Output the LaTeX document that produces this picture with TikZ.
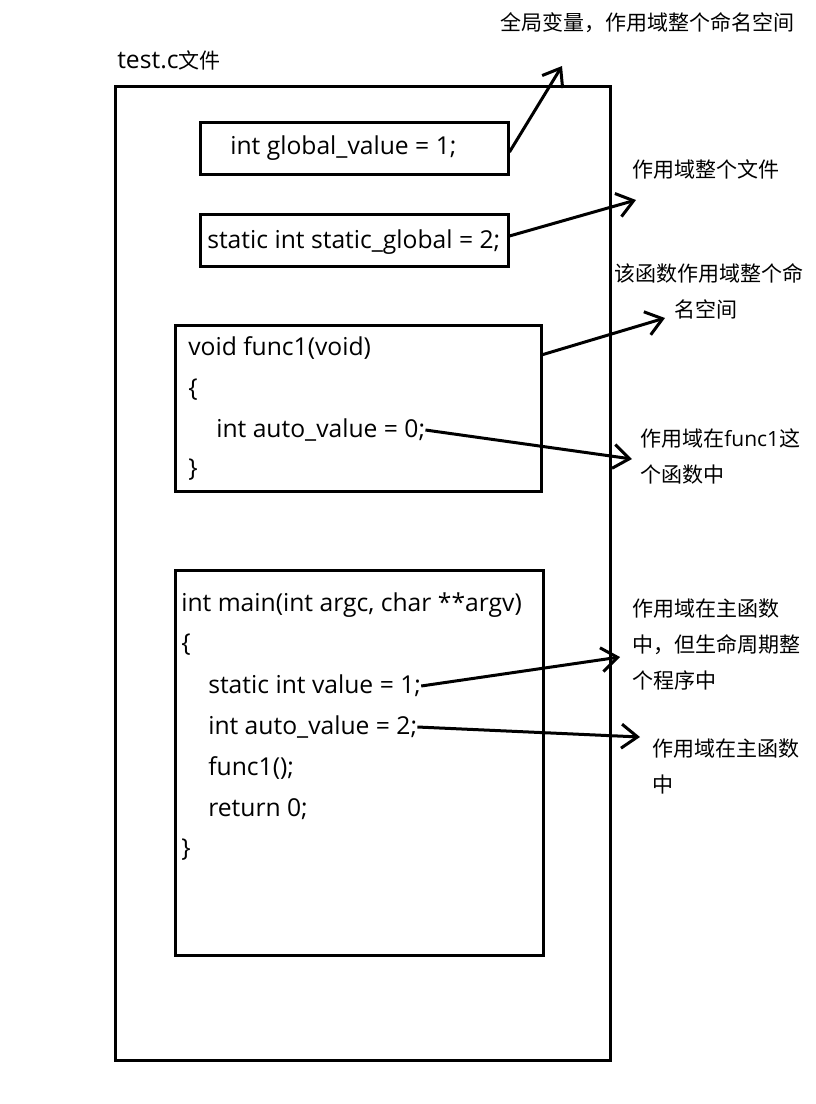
\documentclass[tikz,border=0pt]{standalone}
\usepackage{fontspec}
\setmainfont{Noto Sans CJK SC}
\newfontfamily\codefont{Open Sans}
\usetikzlibrary{arrows.meta,positioning}

\begin{document}
\begin{tikzpicture}[x=0.75pt,y=-0.75pt]
  \tikzset{box/.style={draw,line width=2.25pt,inner sep=0pt},
    code/.style={anchor=west,inner sep=0pt,font=\codefont\fontsize{18.5}{22}\selectfont},
    note/.style={anchor=north west,align=left,inner sep=0pt,font=\fontsize{15.75}{27}\selectfont}}
  \tikzstyle{post}=[-{Straight Barb[length=12pt,width=18pt]},line width=2.25pt]
  \useasboundingbox (0,0) rectangle (816,1104);
  % file and its boxes
  \node[code] (title) at (117,60) {test.c{\normalfont\fontsize{15.75}{20}\selectfont 文件}};
  \node[box,minimum width=371.25pt,minimum height=730.5pt] (file) at (362.5,573) {};
  \node[box,minimum width=231pt,minimum height=39pt] (global) at (354,148) {};
  \node[code] (gtext) at (230,148) {int global\_value = 1;};
  \node[box,minimum width=231pt,minimum height=39pt] (sglobal) at (354,240) {};
  \node[code] (stext) at (207,242) {static int static\_global = 2;};
  \node[box,minimum width=274.5pt,minimum height=124.5pt] (func) at (358,408) {};
  \node[box,minimum width=276pt,minimum height=288.75pt] (main) at (359,762.5) {};
  % func1
  \node[code] (f1) at (188,348) {void func1(void)};
  \node[code] (f2) at (188,390) {\{};
  \node[code] (f3) at (216,430) {int auto\_value = 0;};
  \node[code] (f4) at (188,470) {\}};
  % main
  \node[code] (m1) at (181,605) {int main(int argc, char **argv)};
  \node[code] (m2) at (181,645) {\{};
  \node[code] (m3) at (208,686) {static int value = 1;};
  \node[code] (m4) at (208,727) {int auto\_value = 2;};
  \node[code] (m5) at (208,768) {func1();};
  \node[code] (m6) at (208,809) {return 0;};
  \node[code] (m7) at (181,850) {\}};
  % notes
  \node[note] (n1) at (500,12) {全局变量，作用域整个命名空间};
  \node[note] (n2) at (632,159) {作用域整个文件};
  \node[note] (n3) at (614,263) {该函数作用域整个命\\\hspace*{45pt}名空间};
  \node[note] (n4) at (640,428) {作用域在{\codefont func1}这\\个函数中};
  \node[note] (n5) at (632,599) {作用域在主函数\\中，但生命周期整\\个程序中};
  \node[note] (n6) at (652,739) {作用域在主函数\\中};
  \coordinate (t1) at (562,66);
  \coordinate (t2) at (636,200);
  \coordinate (t3) at (665,318);
  \coordinate (t4) at (632,459);
  \coordinate (t5) at (620,657);
  \coordinate (t6) at (640,737);
  \draw[post] ([yshift=-3pt]global.east) -- (t1);
  \draw[post] ([yshift=3pt]sglobal.east) -- (t2);
  \draw[post] ([yshift=40pt]func.east) -- (t3);
  \draw[post] (f3.east) -- (t4);
  \draw[post] (m3.east) -- (t5);
  \draw[post] (m4.east) -- (t6);
\end{tikzpicture}
\end{document}
